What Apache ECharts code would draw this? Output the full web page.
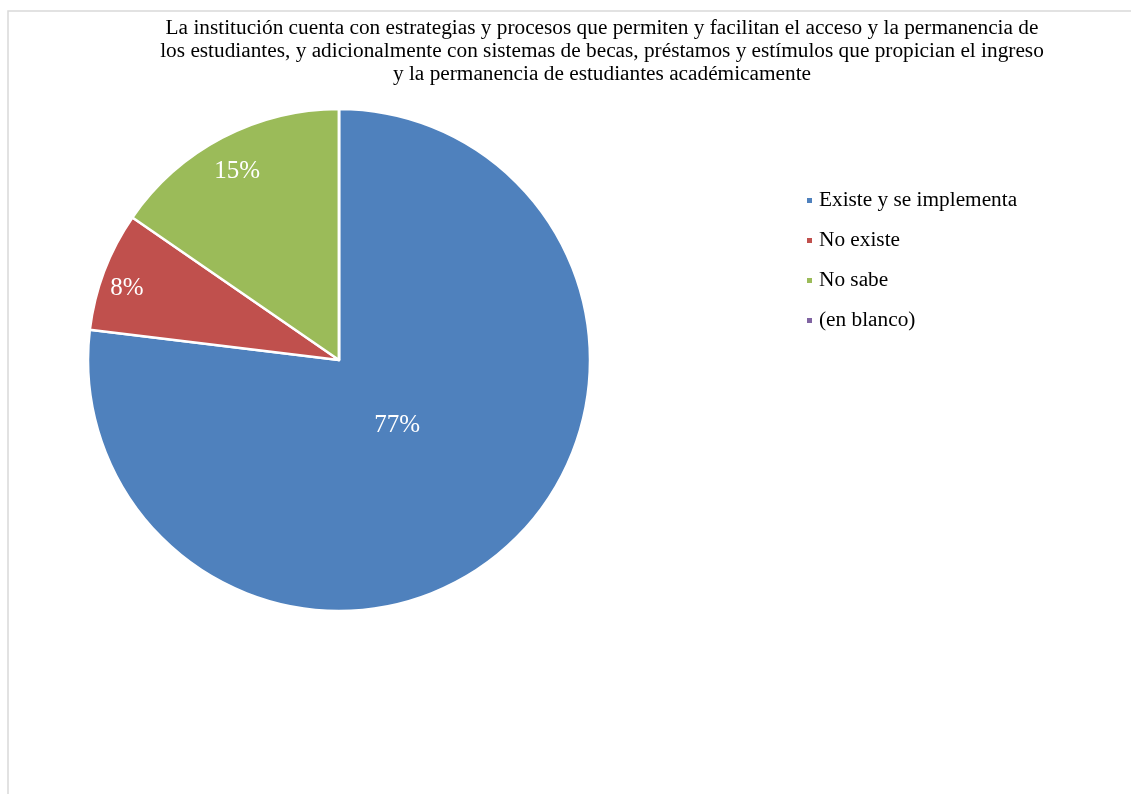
<!DOCTYPE html>
<html>
<head>
<meta charset="utf-8">
<script src="https://cdn.jsdelivr.net/npm/echarts@6/dist/echarts.min.js"></script>
<style>
html,body{margin:0;padding:0;background:#fff;}
#chart{width:1131px;height:794px;}
</style>
</head>
<body>
<div id="chart"></div>
<script>
const titleLines = [
  "La institución cuenta con estrategias y procesos que permiten y facilitan el acceso y la permanencia de",
  "los estudiantes, y adicionalmente con sistemas de becas, préstamos y estímulos que propician el ingreso",
  "y la permanencia de estudiantes académicamente"
];
const categories = ["Existe y se implementa", "No existe", "No sabe", "(en blanco)"];
const counts = [10, 1, 2, 0];
const colors = ["#4F81BD", "#C0504D", "#9BBB59", "#8064A2"];
const labelOffsets = [[-27, -31], [-92, -26], [-42, -75], [0, 0]];

const FONT = '"Liberation Serif", "Times New Roman", serif';
const chart = echarts.init(document.getElementById('chart'), null, {renderer: 'canvas'});

const data = categories.map((c, i) => ({
  name: c,
  value: counts[i],
  itemStyle: {color: colors[i]},
  label: {offset: labelOffsets[i]}
}));

chart.setOption({
  animation: false,
  backgroundColor: '#fff',
  graphic: [{
    type: 'rect',
    shape: {x: 8, y: 11, width: 1140, height: 800},
    style: {fill: 'none', stroke: '#d9d9d9', lineWidth: 1.5},
    silent: true
  }],
  title: {
    text: titleLines.join('\n'),
    left: 597,
    textAlign: 'center',
    top: 12,
    textStyle: {fontFamily: FONT, fontSize: 21.3, fontWeight: 'normal', color: '#000', lineHeight: 23}
  },
  legend: {
    orient: 'vertical',
    left: 800,
    top: 185,
    icon: 'rect',
    itemWidth: 7,
    itemHeight: 7,
    itemGap: 19,
    data: categories,
    textStyle: {fontFamily: FONT, fontSize: 21.3, color: '#000', lineHeight: 18, padding: [0, 0, 0, 1]}
  },
  series: [{
    type: 'pie',
    center: [339, 360],
    radius: 251,
    startAngle: 90,
    clockwise: true,
    avoidLabelOverlap: false,
    stillShowZeroSum: false,
    minShowLabelAngle: 0.01,
    itemStyle: {borderColor: '#fff', borderWidth: 2.5},
    label: {
      show: true,
      position: 'inside',
      color: '#fff',
      fontFamily: FONT,
      fontSize: 25,
      formatter: p => p.value > 0 ? Math.round(p.percent) + '%' : ''
    },
    labelLine: {show: false},
    emphasis: {disabled: true},
    data: data
  }]
});
</script>
</body>
</html>
